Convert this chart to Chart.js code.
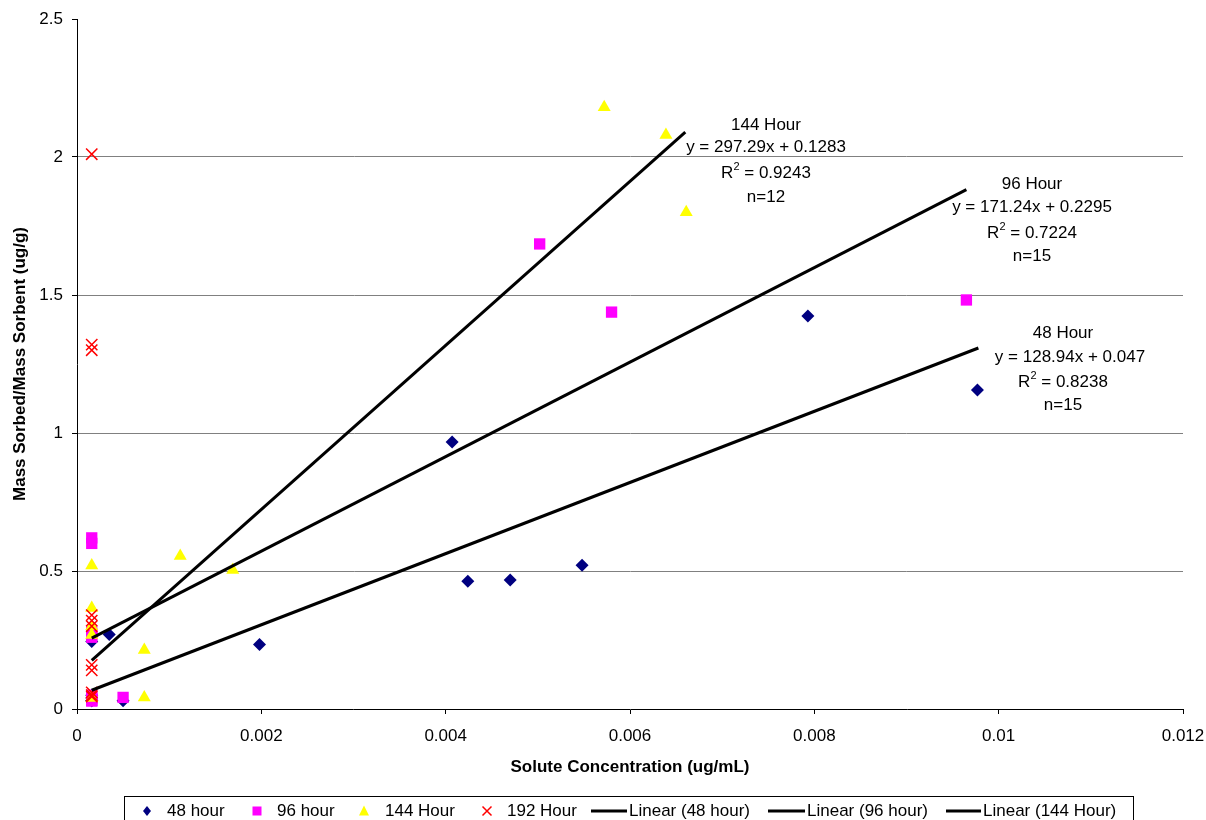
<!DOCTYPE html>
<html>
<head>
<meta charset="utf-8">
<script src="https://cdn.jsdelivr.net/npm/chart.js@4/dist/chart.umd.min.js"></script>
<style>
html,body{margin:0;padding:0;background:#fff;}
#wrap{width:1206px;height:820px;position:relative;overflow:hidden;}
</style>
</head>
<body>
<div id="wrap"><canvas id="c" width="1206" height="820"></canvas></div>
<script>
// ---- data ----
const xTickLabels = ['0', '0.002', '0.004', '0.006', '0.008', '0.01', '0.012'];
const yTickLabels = ['0', '0.5', '1', '1.5', '2', '2.5'];

const seriesNames = ['48 hour', '96 hour', '144 Hour', '192 Hour', 'Linear (48 hour)', 'Linear (96 hour)', 'Linear (144 Hour)'];

const x48 = [0.00016, 0.00016, 0.00016, 0.00016, 0.00016, 0.00035, 0.0005, 0.00198, 0.00407, 0.00424, 0.0047, 0.00548, 0.00793, 0.00977];
const y48 = [0.245, 0.05, 0.04, 0.03, 0.03, 0.27, 0.03, 0.234, 0.967, 0.463, 0.467, 0.521, 1.424, 1.156];

const x96 = [0.00016, 0.00016, 0.00016, 0.00016, 0.00016, 0.00016, 0.00016, 0.00016, 0.00016, 0.00016, 0.00016, 0.0005, 0.00502, 0.0058, 0.00965];
const y96 = [0.62, 0.60, 0.28, 0.27, 0.26, 0.05, 0.04, 0.04, 0.03, 0.03, 0.03, 0.042, 1.685, 1.438, 1.482];

const x144 = [0.00016, 0.00016, 0.00016, 0.00016, 0.00016, 0.00073, 0.00073, 0.00112, 0.00169, 0.00572, 0.00639, 0.00661];
const y144 = [0.52, 0.366, 0.30, 0.268, 0.04, 0.214, 0.042, 0.554, 0.504, 2.18, 2.08, 1.80];

const x192 = [0.00016, 0.00016, 0.00016, 0.00016, 0.00016, 0.00016, 0.00016, 0.00016, 0.00016, 0.00016, 0.00016];
const y192 = [2.01, 1.32, 1.30, 0.34, 0.32, 0.30, 0.16, 0.14, 0.06, 0.05, 0.045];

// trend line end points
const trend48X = [0.00016, 0.00978];
const trend48Y = [0.068, 1.308];
const trend96X = [0.00016, 0.00965];
const trend96Y = [0.257, 1.882];
const trend144X = [0.00016, 0.0066];
const trend144Y = [0.176, 2.090];

// annotation texts
const ann144 = ['144 Hour', 'y = 297.29x + 0.1283', '0.9243', 'n=12'];
const ann96 = ['96 Hour', 'y = 171.24x + 0.2295', '0.7224', 'n=15'];
const ann48 = ['48 Hour', 'y = 128.94x + 0.047', '0.8238', 'n=15'];

const xTitle = 'Solute Concentration (ug/mL)';
const yTitle = 'Mass Sorbed/Mass Sorbent (ug/g)';

// ---- helpers ----
const zip = (xs, ys) => xs.map((x, i) => ({x: x, y: ys[i]}));
const FONT = '"Liberation Sans", Arial, sans-serif';

const NAVY = '#000080', MAGENTA = '#FF00FF', YELLOW = '#FFFF00', RED = '#FF0000';

const datasets = [
  {label: seriesNames[4], data: zip(trend48X, trend48Y), showLine: true, pointRadius: 0, borderColor: '#000', borderWidth: 3, order: 0},
  {label: seriesNames[5], data: zip(trend96X, trend96Y), showLine: true, pointRadius: 0, borderColor: '#000', borderWidth: 3, order: 0},
  {label: seriesNames[6], data: zip(trend144X, trend144Y), showLine: true, pointRadius: 0, borderColor: '#000', borderWidth: 3, order: 0},
  {label: seriesNames[3], data: zip(x192, y192), pointStyle: 'crossRot', pointRadius: 8, borderColor: RED, backgroundColor: RED, pointBorderWidth: 1.5, order: 1},
  {label: seriesNames[2], data: zip(x144, y144), pointStyle: 'triangle', pointRadius: 7.5, borderColor: YELLOW, backgroundColor: YELLOW, pointBorderWidth: 0, order: 2},
  {label: seriesNames[1], data: zip(x96, y96), pointStyle: 'rect', pointRadius: 8, borderColor: MAGENTA, backgroundColor: MAGENTA, pointBorderWidth: 0, order: 3},
  {label: seriesNames[0], data: zip(x48, y48), pointStyle: 'rectRot', pointRadius: 6.5, borderColor: NAVY, backgroundColor: NAVY, pointBorderWidth: 0, order: 4}
];

function drawR2(ctx, cx, y, val) {
  ctx.font = '17px ' + FONT;
  const wR = ctx.measureText('R').width;
  ctx.font = '11px ' + FONT;
  const w2 = ctx.measureText('2').width;
  ctx.font = '17px ' + FONT;
  const rest = ' = ' + val;
  const wRest = ctx.measureText(rest).width;
  const total = wR + w2 + wRest;
  let x = cx - total / 2;
  ctx.textAlign = 'left';
  ctx.fillText('R', x, y);
  ctx.font = '11px ' + FONT;
  ctx.fillText('2', x + wR, y - 6);
  ctx.font = '17px ' + FONT;
  ctx.fillText(rest, x + wR + w2, y);
}

function drawAnn(ctx, lines, cx, ys, cx2) {
  ctx.fillStyle = '#000';
  ctx.textBaseline = 'middle';
  ctx.font = '17px ' + FONT;
  ctx.textAlign = 'center';
  ctx.fillText(lines[0], cx, ys[0]);
  ctx.fillText(lines[1], cx2, ys[1]);
  drawR2(ctx, cx, ys[2], lines[2]);
  ctx.textAlign = 'center';
  ctx.font = '17px ' + FONT;
  ctx.fillText(lines[3], cx, ys[3]);
}

function legendMarker(ctx, kind, x, y) {
  ctx.save();
  if (kind === 'rectRot') {
    ctx.fillStyle = NAVY;
    ctx.beginPath();
    ctx.moveTo(x, y - 5); ctx.lineTo(x + 4, y); ctx.lineTo(x, y + 5); ctx.lineTo(x - 4, y); ctx.closePath();
    ctx.fill();
  } else if (kind === 'rect') {
    ctx.fillStyle = MAGENTA;
    ctx.fillRect(x - 4.5, y - 4.5, 9, 9);
  } else if (kind === 'triangle') {
    ctx.fillStyle = YELLOW;
    ctx.beginPath();
    ctx.moveTo(x, y - 5.5); ctx.lineTo(x + 5, y + 4.5); ctx.lineTo(x - 5, y + 4.5); ctx.closePath();
    ctx.fill();
  } else if (kind === 'crossRot') {
    ctx.strokeStyle = RED; ctx.lineWidth = 1.5;
    ctx.beginPath();
    ctx.moveTo(x - 4.5, y - 4.5); ctx.lineTo(x + 4.5, y + 4.5);
    ctx.moveTo(x + 4.5, y - 4.5); ctx.lineTo(x - 4.5, y + 4.5);
    ctx.stroke();
  }
  ctx.restore();
}

const decor = {
  id: 'decor',
  afterDraw(chart) {
    const ctx = chart.ctx;
    const ca = chart.chartArea;
    ctx.save();
    // axis titles
    ctx.fillStyle = '#000';
    ctx.font = 'bold 17px ' + FONT;
    ctx.textAlign = 'center';
    ctx.textBaseline = 'middle';
    ctx.fillText(xTitle, (ca.left + ca.right) / 2, 767);
    ctx.save();
    ctx.translate(20, (ca.top + ca.bottom) / 2);
    ctx.rotate(-Math.PI / 2);
    ctx.fillText(yTitle, 0, 0);
    ctx.restore();

    // trend annotations
    drawAnn(ctx, ann144, 766, [125, 147, 173, 197], 766);
    drawAnn(ctx, ann96, 1032, [184, 207, 233, 256], 1032);
    drawAnn(ctx, ann48, 1063, [333, 357, 382, 405], 1070);

    // legend
    ctx.strokeStyle = '#000';
    ctx.lineWidth = 1;
    ctx.strokeRect(124.5, 796.5, 1009, 40);
    ctx.font = '17px ' + FONT;
    ctx.textAlign = 'left';
    ctx.textBaseline = 'middle';
    ctx.fillStyle = '#000';
    const ly = 811;
    const items = [
      {kind: 'rectRot', mx: 147, tx: 167, label: seriesNames[0]},
      {kind: 'rect', mx: 257, tx: 277, label: seriesNames[1]},
      {kind: 'triangle', mx: 364, tx: 385, label: seriesNames[2]},
      {kind: 'crossRot', mx: 487, tx: 507, label: seriesNames[3]},
      {kind: 'line', l0: 591, l1: 627, tx: 629, label: seriesNames[4]},
      {kind: 'line', l0: 768, l1: 805, tx: 807, label: seriesNames[5]},
      {kind: 'line', l0: 946, l1: 981, tx: 983, label: seriesNames[6]}
    ];
    items.forEach(it => {
      if (it.kind === 'line') {
        ctx.save();
        ctx.strokeStyle = '#000'; ctx.lineWidth = 3;
        ctx.beginPath(); ctx.moveTo(it.l0, ly); ctx.lineTo(it.l1, ly); ctx.stroke();
        ctx.restore();
      } else {
        legendMarker(ctx, it.kind, it.mx, ly);
      }
      ctx.fillStyle = '#000';
      ctx.fillText(it.label, it.tx, ly);
    });
    ctx.restore();
  }
};

new Chart(document.getElementById('c'), {
  type: 'scatter',
  data: {datasets: datasets},
  options: {
    responsive: false,
    animation: false,
    devicePixelRatio: 1,
    layout: {padding: {top: 19, right: 23, left: 0, bottom: 0}},
    plugins: {legend: {display: false}, tooltip: {enabled: false}, title: {display: false}},
    scales: {
      x: {
        type: 'linear', min: 0, max: 0.012,
        afterFit: s => { s.height = 111; s.paddingLeft = 0; s.paddingRight = 0; },
        ticks: {stepSize: 0.002, color: '#000', font: {family: FONT, size: 17}, padding: 12, maxRotation: 0,
                callback: (v, i) => xTickLabels[i]},
        grid: {drawOnChartArea: false, drawTicks: true, tickLength: 5, tickColor: '#000'},
        border: {color: '#000', width: 1}
      },
      y: {
        type: 'linear', min: 0, max: 2.5,
        afterFit: s => { s.width = 77; s.paddingTop = 0; s.paddingBottom = 0; },
        ticks: {stepSize: 0.5, color: '#000', font: {family: FONT, size: 17}, padding: 9,
                callback: (v, i) => yTickLabels[i]},
        grid: {
          color: c => (c.tick && (c.tick.value === 0 || c.tick.value === 2.5)) ? 'rgba(0,0,0,0)' : '#808080',
          tickColor: '#000', tickLength: 5, lineWidth: 1
        },
        border: {color: '#000', width: 1}
      }
    }
  },
  plugins: [decor]
});
</script>
</body>
</html>
